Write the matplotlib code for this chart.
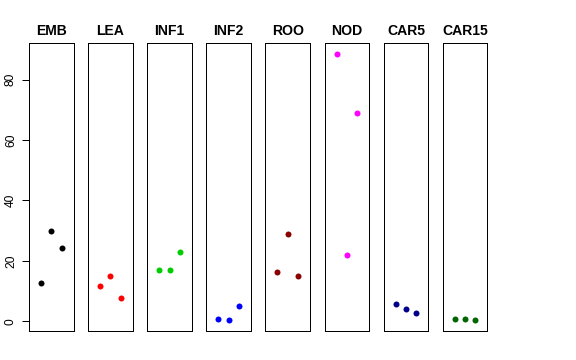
import matplotlib
matplotlib.use("Agg")
import matplotlib.pyplot as plt

categories = ["EMB", "LEA", "INF1", "INF2", "ROO", "NOD", "CAR5", "CAR15"]
colors = ["#000000", "#FF0000", "#00CD00", "#0000FF", "#8B0000", "#FF00FF", "#00008B", "#006400"]
values = {
    "EMB":   [12.8, 29.8, 24.2],
    "LEA":   [11.8, 14.9, 7.85],
    "INF1":  [16.9, 16.9, 22.9],
    "INF2":  [0.65, 0.43, 5.2],
    "ROO":   [16.2, 28.9, 15.0],
    "NOD":   [88.6, 21.9, 69.1],
    "CAR5":  [5.75, 3.98, 2.76],
    "CAR15": [0.65, 0.87, 0.32],
}
yticks = [0, 20, 40, 60, 80]

plt.rcParams["font.family"] = ["Liberation Sans", "DejaVu Sans"]
W, H = 576, 360
fig = plt.figure(figsize=(W / 72, H / 72), dpi=72)

allv = [v for c in categories for v in values[c]]
lo, hi = min(allv), max(allv)
pad = 0.04 * (hi - lo)
ylim = (lo - pad, hi + pad)

left0, step, width = 29.0, 59.1, 44.7
top, bottom = 43.0, 331.0
for i, cat in enumerate(categories):
    x0 = left0 + step * i
    ax = fig.add_axes([x0 / W, (H - bottom) / H, width / W, (bottom - top) / H])
    xs = [1, 2, 3]
    ax.plot(xs, values[cat], "o", color=colors[i], markersize=6, markeredgewidth=0)
    ax.set_xlim(-0.16, 4.16)
    ax.set_ylim(*ylim)
    ax.set_xticks([])
    for s in ax.spines.values():
        s.set_linewidth(1.0)
        s.set_color("black")
    ax.set_title(cat, fontsize=14, fontweight="bold", pad=8)
    if i == 0:
        ax.set_yticks(yticks)
        ax.set_yticklabels([str(t) for t in yticks], rotation=90, va="center", fontsize=12)
        ax.tick_params(axis="y", length=7, width=1, pad=5)
    else:
        ax.set_yticks([])

fig.savefig("out.png", dpi=72)
